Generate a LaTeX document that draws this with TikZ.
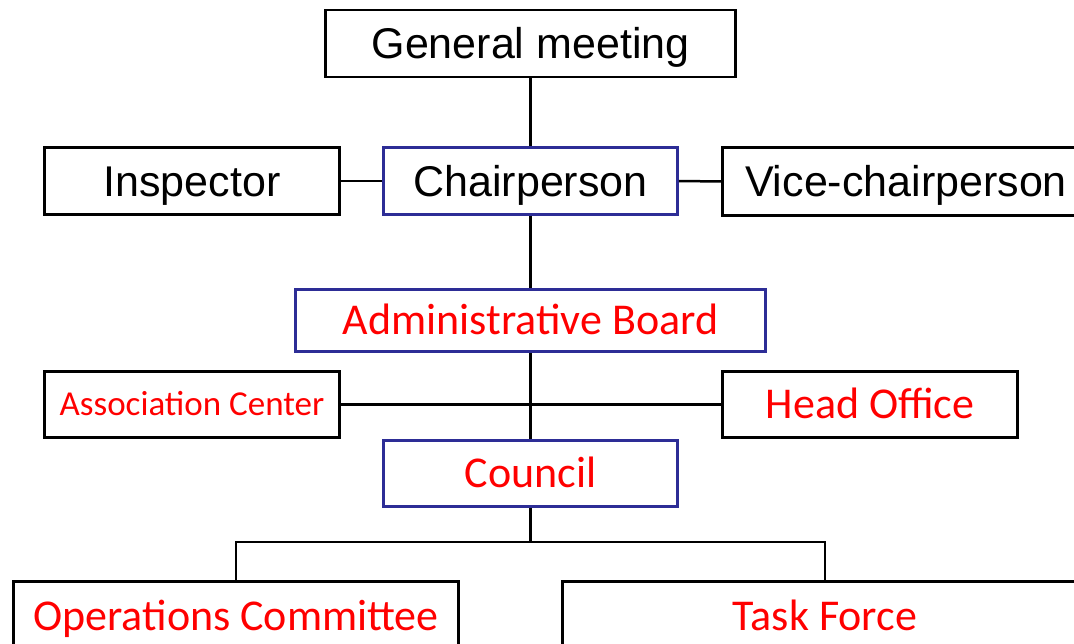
\documentclass[tikz,border=0pt]{standalone}
\usepackage{fontspec}
\setmainfont{Liberation Sans}
\newfontfamily\carlitofont{Carlito}
\definecolor{boxblue}{RGB}{45,45,150}
\definecolor{txtred}{RGB}{255,0,0}
\tikzset{
  x=1pt, y=-1pt,
  orgbox/.style={draw=black, line width=2.6pt, rectangle, inner sep=0pt, fill=white,
    text depth=0pt},
  bluebox/.style={orgbox, draw=boxblue},
  blk/.style={font=\fontsize{43}{50}\selectfont, text=black, text height=30.8pt},
  redbig/.style={font=\carlitofont\fontsize{44}{50}\selectfont, text=txtred, text height=28.3pt},
  redsmall/.style={font=\carlitofont\fontsize{35}{40}\selectfont, text=txtred, text height=22.5pt},
  link/.style={draw=black, line width=2.5pt}
}
\begin{document}
\begin{tikzpicture}
\useasboundingbox (0,0) rectangle (1074,644);
\clip (0,0) rectangle (1074,644);
\fill[white] (0,0) rectangle (1074,644);
\node[orgbox, blk, minimum width=410pt, minimum height=67pt] (gm) at (530.5,43.5) {General meeting};
\node[orgbox, blk, minimum width=295pt, minimum height=67pt] (insp) at (192,181) {Inspector};
\node[bluebox, blk, minimum width=294pt, minimum height=67pt] (chair) at (530.5,181) {Chairperson};
\node[orgbox, blk, minimum width=367pt, minimum height=68pt] (vice) at (906,181.5) {Vice-chairperson};
\node[bluebox, redbig, minimum width=470pt, minimum height=62pt] (admin) at (530.5,320.5) {Administrative Board};
\node[orgbox, redsmall, minimum width=295pt, minimum height=66pt] (assoc) at (192,404.5) {Association Center};
\node[orgbox, redbig, minimum width=295pt, minimum height=66pt] (head) at (870,404.5) {Head Office};
\node[bluebox, redbig, minimum width=294pt, minimum height=66pt] (council) at (530.5,473.5) {Council};
\node[orgbox, redbig, minimum width=445pt, minimum height=69pt] (ops) at (236,616) {Operations Committee};
\node[orgbox, redbig, minimum width=525pt, minimum height=69pt] (task) at (825,616) {Task Force};
\coordinate (bus) at (530.5,542);
\draw[link] (gm.south) -- (chair.north);
\draw[link] (insp.east) -- (chair.west);
\draw[link] (chair.east) -- (vice.west);
\draw[link] (chair.south) -- (admin.north);
\draw[link] (admin.south) -- (council.north);
\draw[link] (assoc.east) -- (head.west);
\draw[link] (council.south) -- (bus);
\draw[link] (ops.north) |- (bus) -| (task.north);
\end{tikzpicture}
\end{document}
